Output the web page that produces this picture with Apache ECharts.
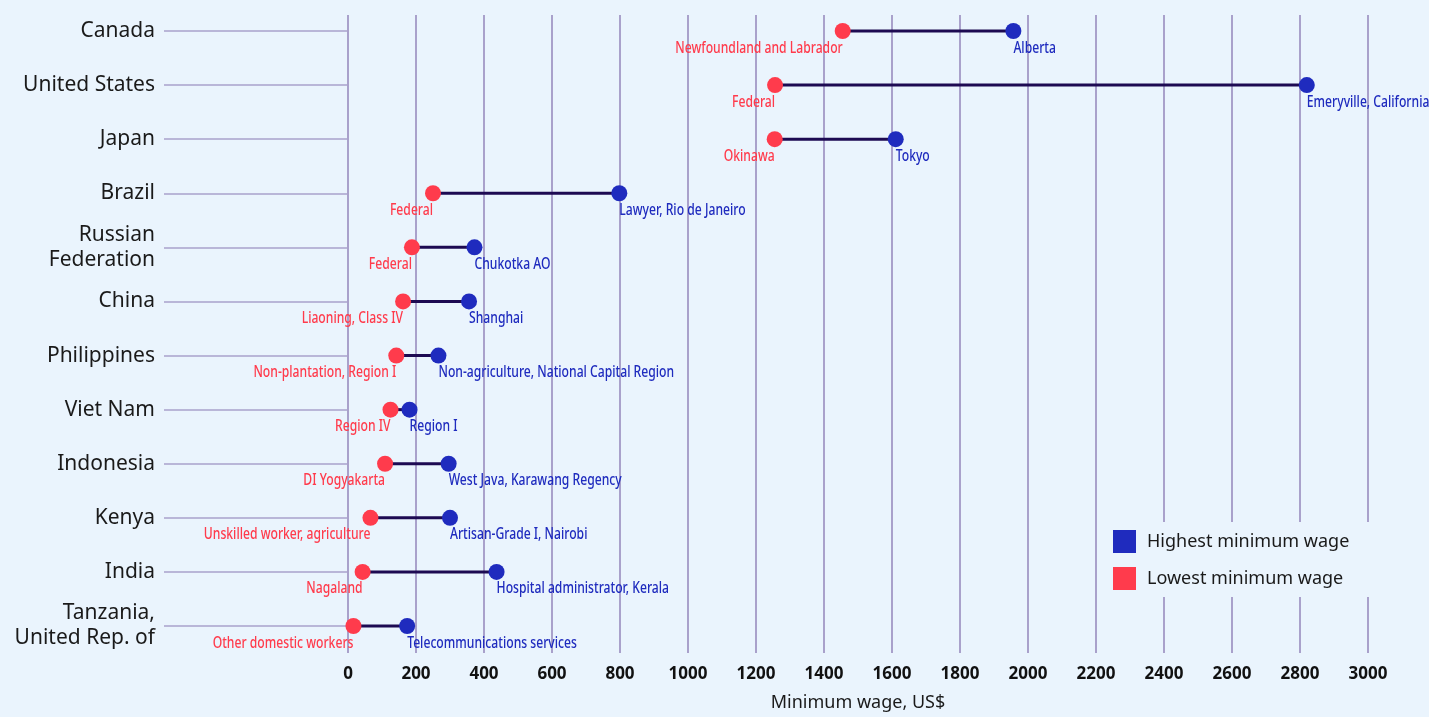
<!DOCTYPE html>
<html>
<head>
<meta charset="utf-8">
<script src="https://cdn.jsdelivr.net/npm/echarts@6/dist/echarts.min.js"></script>
<style>
html,body{margin:0;padding:0;background:#EAF4FD;}
#chart{width:1429px;height:717px;}
</style>
</head>
<body>
<div id="chart"></div>
<script>
const categories = ['Canada','United States','Japan','Brazil','Russian\nFederation','China','Philippines','Viet Nam','Indonesia','Kenya','India','Tanzania,\nUnited Rep. of'];
const lowValues  = [1455, 1256, 1255, 250, 188, 162, 142, 125, 109, 66, 43, 16];
const highValues = [1957, 2820, 1611, 798, 372, 356, 266, 181, 296, 300, 437, 174];
const lowLabels  = ['Newfoundland and Labrador','Federal','Okinawa','Federal','Federal','Liaoning, Class IV','Non-plantation, Region I','Region IV','DI Yogyakarta','Unskilled worker, agriculture','Nagaland','Other domestic workers'];
const highLabels = ['Alberta','Emeryville, California','Tokyo','Lawyer, Rio de Janeiro','Chukotka AO','Shanghai','Non-agriculture, National Capital Region','Region I','West Java, Karawang Regency','Artisan-Grade I, Nairobi','Hospital administrator, Kerala','Telecommunications services'];
const xMin = 0, xMax = 3000, xInterval = 200;
const xName = 'Minimum wage, US$';
const highName = 'Highest minimum wage';
const lowName = 'Lowest minimum wage';

const BLUE = '#1F2BBE';
const RED = '#FF3B4C';
const GRIDC = '#A9A1CB';
const LABEL_FONT = '500 16px "Noto Sans", sans-serif';
const SQUEEZE = 0.76;

const chart = echarts.init(document.getElementById('chart'));

function labelSeries(values, labels, color, align) {
  return {
    type: 'custom', xAxisIndex: 0, yAxisIndex: 0, z: 4, silent: true,
    data: values.map((v, i) => [v, i]),
    encode: {x: 0, y: 1},
    renderItem: function (params, api) {
      const p = api.coord([api.value(0), api.value(1)]);
      return {
        type: 'text', x: p[0], y: p[1] + 17, scaleX: SQUEEZE, scaleY: 1,
        style: {text: labels[params.dataIndex], x: 0, y: 0, fill: color,
                font: LABEL_FONT, align: align, verticalAlign: 'middle'}
      };
    }
  };
}

const option = {
  backgroundColor: '#EAF4FD',
  animation: false,
  grid: [
    {left: 348, right: 61, top: 31, bottom: 91},
    {left: 348, right: 61, top: 15, bottom: 61}
  ],
  xAxis: [
    {gridIndex: 0, type: 'value', min: xMin, max: xMax, interval: xInterval, show: false},
    {gridIndex: 1, type: 'value', min: xMin, max: xMax, interval: xInterval,
     axisLine: {show: false}, axisTick: {show: false},
     splitLine: {show: true, lineStyle: {color: GRIDC, width: 2}},
     axisLabel: {margin: 13, fontFamily: 'Noto Sans', fontWeight: 'bold', fontSize: 17, color: '#111',
                 formatter: v => String(v)},
     name: xName, nameLocation: 'middle', nameGap: 41,
     nameTextStyle: {fontFamily: 'Noto Sans', fontSize: 18, color: '#1a1a1a'}}
  ],
  yAxis: [
    {gridIndex: 0, type: 'category', data: categories, inverse: true, boundaryGap: false,
     axisLine: {show: false},
     axisTick: {show: true, length: 184, lineStyle: {color: GRIDC, width: 1.5}},
     axisLabel: {margin: 193, fontFamily: 'Noto Sans', fontSize: 21, color: '#1a1a1a', lineHeight: 25, interval: 0},
     splitLine: {show: false}},
    {gridIndex: 1, type: 'value', show: false}
  ],
  legend: {
    orient: 'vertical', left: 1103, top: 522,
    padding: [8, 20, 7, 10], itemGap: 14,
    backgroundColor: '#EAF4FD',
    itemWidth: 23, itemHeight: 23, icon: 'rect',
    textStyle: {fontFamily: 'Noto Sans', fontSize: 18, color: '#1a1a1a', padding: [0,0,0,6]},
    data: [highName, lowName]
  },
  series: [
    {
      type: 'custom', xAxisIndex: 0, yAxisIndex: 0, z: 2, silent: true,
      data: categories.map((c, i) => [i, lowValues[i], highValues[i]]),
      encode: {y: 0, x: [1, 2]},
      renderItem: function (params, api) {
        const a = api.coord([api.value(1), api.value(0)]);
        const b = api.coord([api.value(2), api.value(0)]);
        return {type: 'line', shape: {x1: a[0], y1: a[1], x2: b[0], y2: b[1]},
                style: {stroke: '#1D0A52', lineWidth: 3}};
      }
    },
    {
      name: lowName, type: 'scatter', xAxisIndex: 0, yAxisIndex: 0, z: 3,
      symbolSize: 16, itemStyle: {color: RED, opacity: 1},
      data: lowValues.map((v, i) => [v, i])
    },
    {
      name: highName, type: 'scatter', xAxisIndex: 0, yAxisIndex: 0, z: 3,
      symbolSize: 16, itemStyle: {color: BLUE, opacity: 1},
      data: highValues.map((v, i) => [v, i])
    },
    labelSeries(lowValues, lowLabels, RED, 'right'),
    labelSeries(highValues, highLabels, BLUE, 'left')
  ]
};
chart.setOption(option);
</script>
</body>
</html>
